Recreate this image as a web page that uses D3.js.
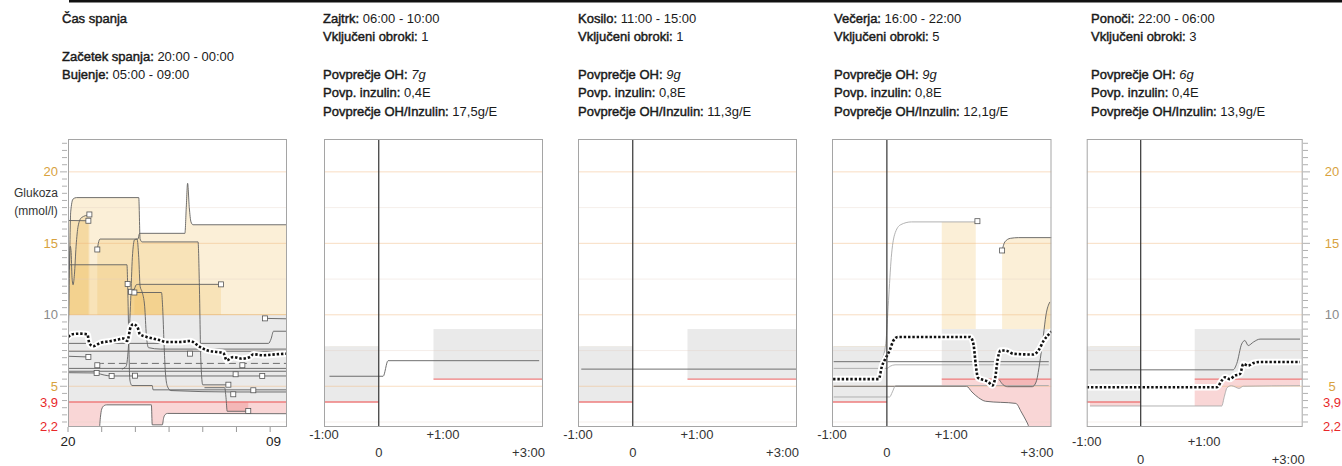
<!DOCTYPE html>
<html>
<head>
<meta charset="utf-8">
<script src="https://cdn.jsdelivr.net/npm/d3@7"></script>
<style>
  html, body { margin: 0; padding: 0; background: #fff; }
  svg { display: block; font-family: "Liberation Sans", Arial, sans-serif; }
</style>
</head>
<body>
<svg id="chart" width="1342" height="466"></svg>
<script>
// ---------- header texts ----------
const sleepTitle = "Čas spanja";
const sleepInfo = [["Začetek spanja:", "20:00 - 00:00"], ["Bujenje:", "05:00 - 09:00"]];
const mealNames = ["Zajtrk", "Kosilo", "Večerja", "Ponoči"];
const mealTimes = ["06:00 - 10:00", "11:00 - 15:00", "16:00 - 22:00", "22:00 - 06:00"];
const mealCounts = ["1", "1", "5", "3"];
const avgCarbs = ["7g", "9g", "9g", "6g"];
const avgInsulin = ["0,4E", "0,8E", "0,8E", "0,4E"];
const avgRatio = ["17,5g/E", "11,3g/E", "12,1g/E", "13,9g/E"];

// ---------- axes ----------
const glucoseLabels = [20, 15, 10, 5, 3.9, 2.2];
const gridValues = [2.5, 5, 7.5, 10, 12.5, 15, 17.5, 20];
const sleepHours = [0, 13];            // hours after 20:00
const sleepTickHours = [0, 2, 4, 6, 8, 10, 12];
const sleepTickLabels = [[0, "20"], [12.2, "09"]];
const mealHours = [-1, 3];             // hours relative to the meal
const mealLabelsUpper = [["-1:00", -1], ["+1:00", 1]];
const mealLabelsLower = [["0", 0], ["+3:00", 3]];

// ---------- target ranges (mmol/l) ----------
const sleepTarget = [3.9, 10];
const preMealTarget = [3.9, 7.8];
const postMealTarget = [5.5, 9.0];
const preWindow = [-1, 0];
const postWindow = [1, 3];

// ---------- sleep: individual nights [hour, mmol/l] ----------
const sleepTraces = [
  [[1.74,14.57],[1.8,15.0],[1.9,15.3],[4.15,15.3],[4.25,15.7],[6.94,15.7],[7.02,17.5],[7.1,19.2],[7.2,17.5],[7.3,16.5],[7.42,16.3],[13,16.3]],
  [[0,8.6],[0.05,10.2],[0.1,14],[0.16,17.2],[0.3,18.1],[0.5,18.2],[4.2,18.2],[4.28,15.3],[4.4,15.1],[7.72,15.1],[7.8,12],[7.88,7],[8.0,5.1],[9.52,5.1]],
  [[0,16.6],[1.21,16.58]],
  [[0.08,13.2],[0.13,14.8],[0.18,14.5],[0.24,12.6],[0.3,12.1],[0.38,12.8],[0.48,14.8],[0.6,16.2],[0.8,16.8],[1.27,17.0]],
  [[0,13.5],[3.5,13.5],[3.54,12.15],[3.58,10],[3.62,7.5],[3.66,5.6],[3.72,5.2],[3.8,5.05],[5.0,5.05],[5.05,4.75],[13,4.75]],
  [[3.94,11.56],[5.55,11.56],[5.62,10.5],[5.7,8],[5.78,6],[5.9,5.0],[6.1,4.7],[9.81,4.6],[13,4.6]],
  [[3.74,11.61],[3.9,11.7],[4.05,12.1],[4.2,12.13],[9.08,12.13]],
  [[3.2,6.2],[3.45,6.4],[3.6,8],[3.72,11],[3.82,14],[3.95,15.25],[4.1,15.3],[4.2,14],[4.28,12],[4.4,11.6],[4.55,10.6],[4.65,8.6],[4.78,7.7],[5.5,7.6],[13,7.6]],
  [[0,8.0],[11.9,8.0],[12.05,8.3],[12.2,8.85],[13,8.85]],
  [[11.69,9.75],[13,9.72]],
  [[0,7.45],[13,7.45]],
  [[0,6.25],[13,6.25]],
  [[0,6.05],[13,6.05]],
  [[0,7.1],[1.2,7.05]],
  [[1.7,5.93],[2.59,5.72],[13,5.72]],
  [[0,5.95],[1.7,5.93]],
  [[1.74,6.47],[2.0,6.6],[13,6.6]],
  [[0,1.9],[1.85,1.9],[1.92,2.8],[2.0,3.4],[2.15,3.65],[2.3,3.7],[4.95,3.7],[5.0,2.3],[5.6,2.3],[5.68,2.8],[5.8,3.05],[5.9,3.1],[13,3.08]],
  [[8.1,4.9],[9.3,4.9],[9.38,4.2],[9.45,3.25],[10.7,3.25]]
];
const sleepMarkers = [
  [1.27,17.02],[1.21,16.58],[1.74,14.57],[3.54,12.15],[3.74,11.61],[3.94,11.56],[9.08,12.13],
  [11.69,9.75],[1.21,7.05],[1.74,6.47],[1.70,5.93],[2.59,5.72],[3.98,5.74],[7.24,7.28],
  [10.35,6.47],[9.95,5.84],[11.53,5.72],[9.52,5.11],[9.81,4.44],[11.0,4.72],[10.7,3.27]
];
const sleepMedian = [
  [0.02,8.45],[0.22,8.64],[0.71,8.68],[1.15,8.64],[1.27,7.99],[1.5,7.8],[1.9,8.03],[2.49,8.15],
  [2.99,8.27],[3.28,8.34],[3.52,8.17],[3.72,9.15],[3.88,9.34],[4.12,9.15],[4.27,8.64],[4.67,8.45],
  [5.06,8.34],[5.46,8.22],[5.85,8.1],[6.65,8.1],[7.24,8.17],[7.83,7.75],[8.23,7.52],[8.82,7.4],
  [9.22,7.33],[9.42,6.82],[9.81,7.05],[10.31,6.93],[10.8,7.05],[11.0,7.24],[11.6,7.17],[12.38,7.24],[12.97,7.28]
];

// ---------- meals: individual meals [hour, mmol/l] ----------
const breakfastTraces = [
  [[-0.9,5.7],[0.08,5.7],[0.17,6.79],[2.93,6.79]]
];
const lunchTraces = [
  [[-0.94,6.2],[3.0,6.2]]
];
const dinnerTraces = [
  [[-0.97,6.72],[2.95,6.72]],
  [[-0.97,6.25],[0,6.25],[0.06,6.4],[0.15,6.5],[2.95,6.5]],
  [[-0.97,5.0],[1.45,5.0],[1.55,4.6],[1.67,4.2],[1.8,3.95],[2.35,3.8],[2.45,3.2],[2.55,2.5],[2.62,2.0],[3.0,2.0]],
  [[-0.97,4.25],[0.05,4.25],[0.1,4.6],[0.16,5.05],[2.95,5.05]],
  [[-0.1,6.8],[-0.02,8],[0.03,11],[0.08,14],[0.14,15.6],[0.25,16.3],[0.45,16.5],[1.62,16.5]],
  [[2.1,14.5],[2.15,15.1],[2.25,15.35],[2.4,15.4],[3.0,15.4]],
  [[2.05,5.45],[2.12,5.1],[2.2,4.97],[2.65,4.97],[2.72,5.3],[2.78,6.5],[2.85,8.5],[2.9,10],[2.97,10.9]]
];
const dinnerMarkers = [[1.65,16.55],[2.1,14.5]];
const dinnerMedian = [
  [-0.98,5.5],[-0.15,5.5],[-0.09,6.4],[-0.03,6.9],[0.05,7.5],[0.12,8.2],[0.2,8.45],[1.52,8.45],
  [1.58,7.9],[1.62,6.5],[1.66,5.6],[1.75,5.45],[1.85,5.3],[1.92,5.05],[1.97,5.5],[2.02,6.9],
  [2.07,7.5],[2.16,7.5],[2.31,7.27],[2.67,7.22],[2.76,7.5],[2.86,8.2],[3.0,8.83]
];
const nightTraces = [
  [[-0.94,6.15],[1.71,6.15],[1.78,6.6],[1.87,7.96],[1.93,8.2],[1.99,7.85],[2.09,8.1],[2.21,8.3],[2.95,8.3]],
  [[-0.94,3.62],[1.5,3.62],[1.55,4.3],[1.6,4.9],[1.68,5.04],[1.75,4.95],[1.82,4.85],[1.9,5.0],[2.95,5.04]]
];
const nightMedian = [
  [-1.0,4.93],[1.41,4.93],[1.5,5.4],[1.56,5.63],[1.65,5.5],[1.74,5.74],[1.84,5.86],[1.9,6.56],
  [1.99,6.44],[2.09,6.63],[2.21,6.7],[2.95,6.7]
];

// ---------- drawing ----------
const svg = d3.select("#chart");
const defs = svg.append("defs");
const TOP = 139, BOTTOM = 427;
const y = d3.scaleLinear().domain([2.15, 22.3]).range([BOTTOM, TOP]);
const fmt = v => String(v).replace(".", ",");
const labelColor = v => (v < 5 ? "#e8282a" : v === 10 ? "#8a8a8a" : "#d8a23e");
const curve = d3.curveMonotoneX;
let clipId = 0;

function clipRect(x0, y0, x1, y1) {
  const id = "clip" + (clipId++);
  defs.append("clipPath").attr("id", id).append("rect")
    .attr("x", x0).attr("y", y0).attr("width", x1 - x0).attr("height", y1 - y0);
  return "url(#" + id + ")";
}

function drawPanel(opt) {
  const x = opt.x;
  const [x0, x1] = x.range();
  const g = svg.append("g");
  const plot = g.append("g").attr("clip-path", clipRect(x0, TOP, x1, BOTTOM));
  const skipFill = opt.noFill || [];

  // target ranges
  opt.boxes.forEach(b => {
    plot.append("rect")
      .attr("x", x(b.t[0])).attr("width", x(b.t[1]) - x(b.t[0]))
      .attr("y", y(b.r[1])).attr("height", y(b.r[0]) - y(b.r[1]))
      .attr("fill", "#eaeaea");
  });

  // excursions above / below the target range, one translucent layer per trace
  opt.boxes.forEach(b => {
    const bx0 = x(b.t[0]), bx1 = x(b.t[1]);
    const above = plot.append("g").attr("clip-path", clipRect(bx0, TOP, bx1, y(b.r[1])));
    const below = plot.append("g").attr("clip-path", clipRect(bx0, y(b.r[0]), bx1, BOTTOM));
    opt.traces.forEach((tr, i) => {
      if (skipFill.includes(i)) return;
      const area = lim => d3.area().curve(curve).x(d => x(d[0])).y0(y(lim)).y1(d => y(d[1]))(tr);
      above.append("path").attr("d", area(b.r[1])).attr("fill", "rgba(238,188,88,0.24)");
      below.append("path").attr("d", area(b.r[0])).attr("fill", "rgba(232,96,96,0.26)");
    });
  });

  // grid
  gridValues.forEach(v => {
    plot.append("line")
      .attr("x1", x0).attr("x2", x1).attr("y1", y(v)).attr("y2", y(v))
      .attr("stroke", v % 5 === 0 ? "rgba(240,180,120,0.45)" : "rgba(225,205,195,0.35)")
      .attr("stroke-width", 1);
  });

  // lower limit of each target range
  opt.boxes.forEach(b => {
    plot.append("line")
      .attr("x1", x(b.t[0])).attr("x2", x(b.t[1]))
      .attr("y1", y(b.r[0])).attr("y2", y(b.r[0]))
      .attr("stroke", "#ee7c7c").attr("stroke-width", 1.3);
  });

  // individual traces
  const line = d3.line().curve(curve).x(d => x(d[0])).y(d => y(d[1]));
  opt.traces.forEach((tr, i) => {
    const light = opt.light && opt.light.includes(i);
    const dashed = opt.dashed && opt.dashed.includes(i);
    plot.append("path").attr("d", line(tr)).attr("fill", "none")
      .attr("stroke", light ? "#a9a9a9" : "#606060")
      .attr("stroke-width", 0.9)
      .attr("stroke-dasharray", dashed ? "7,4" : null);
  });

  // markers
  (opt.markers || []).forEach(m => {
    plot.append("rect")
      .attr("x", x(m[0]) - 2.5).attr("y", y(m[1]) - 2.5)
      .attr("width", 5).attr("height", 5)
      .attr("fill", "#fff").attr("stroke", "#555").attr("stroke-width", 0.8);
  });

  // median
  if (opt.median) {
    const p = line(opt.median);
    plot.append("path").attr("d", p).attr("fill", "none")
      .attr("stroke", "#fff").attr("stroke-width", 6.5)
      .attr("stroke-linejoin", "round").attr("stroke-linecap", "round");
    plot.append("path").attr("d", p).attr("fill", "none")
      .attr("stroke", "#111").attr("stroke-width", 2.6)
      .attr("stroke-dasharray", "2.4,1.9");
  }

  // meal time marker
  if (opt.zero) {
    g.append("line").attr("x1", x(0)).attr("x2", x(0)).attr("y1", TOP).attr("y2", BOTTOM)
      .attr("stroke", "#333").attr("stroke-width", 1.2);
  }

  // frame
  g.append("rect").attr("x", x0 + 0.5).attr("y", TOP + 0.5)
    .attr("width", x1 - x0 - 1).attr("height", BOTTOM - TOP - 1)
    .attr("fill", "none").attr("stroke", "#a5a5a5").attr("stroke-width", 1);
  return g;
}

function glucoseAxis(xTick, dir, labelX, anchor) {
  const g = svg.append("g");
  d3.range(2.5, 22.01, 0.5).forEach(v => {
    const len = v % 5 === 0 ? 7 : 5;
    g.append("line").attr("x1", xTick).attr("x2", xTick + dir * len)
      .attr("y1", y(v)).attr("y2", y(v)).attr("stroke", "#b0b0b0").attr("stroke-width", 1);
  });
  glucoseLabels.forEach(v => {
    g.append("text").attr("x", labelX).attr("y", y(v)).attr("dy", "0.35em")
      .attr("text-anchor", anchor).attr("font-size", 13)
      .attr("fill", labelColor(v)).text(fmt(v));
  });
}

// top rule
svg.append("rect").attr("x", 69).attr("y", 0).attr("width", 1342 - 69).attr("height", 2.5).attr("fill", "#111");

// --- sleep panel ---
const sleepX = d3.scaleLinear().domain(sleepHours).range([68, 287]);
drawPanel({
  x: sleepX,
  boxes: [{ t: sleepHours, r: sleepTarget }],
  traces: sleepTraces, markers: sleepMarkers, median: sleepMedian,
  dashed: [16]
});
glucoseAxis(67, -1, 58, "end");
sleepTickHours.forEach(h => {
  svg.append("line").attr("x1", sleepX(h)).attr("x2", sleepX(h))
    .attr("y1", BOTTOM).attr("y2", BOTTOM + 5).attr("stroke", "#999");
});
sleepTickLabels.forEach(([h, t]) => {
  svg.append("text").attr("x", sleepX(h)).attr("y", 446).attr("text-anchor", "middle")
    .attr("font-size", 13.5).attr("fill", "#222").text(t);
});
svg.append("text").attr("x", 36).attr("y", 197).attr("text-anchor", "middle")
  .attr("font-size", 12).attr("fill", "#333").text("Glukoza");
svg.append("text").attr("x", 36).attr("y", 215).attr("text-anchor", "middle")
  .attr("font-size", 12).attr("fill", "#333").text("(mmol/l)");

// header text: labels drawn slightly heavier than their values
const head = svg.append("g").attr("font-size", 13).attr("fill", "#1a1a1a");
const heavy = sel => sel.attr("stroke", "#1a1a1a").attr("stroke-width", 0.45);
heavy(head.append("text").attr("x", 62).attr("y", 23).text(sleepTitle));
sleepInfo.forEach(([k, v], i) => {
  const t = head.append("text").attr("x", 62).attr("y", 61 + i * 18);
  heavy(t.append("tspan").text(k));
  t.append("tspan").text(" " + v);
});

// --- meal panels ---
const mealRanges = [[324, 543], [578, 797], [832, 1051.5], [1086.7, 1302.7]];
const mealTextX = [323, 578, 834, 1091];
const mealData = [
  { traces: breakfastTraces },
  { traces: lunchTraces },
  { traces: dinnerTraces, markers: dinnerMarkers, median: dinnerMedian, light: [1, 3, 4], noFill: [3] },
  { traces: nightTraces, median: nightMedian, light: [1] }
];

mealData.forEach((m, i) => {
  const x = d3.scaleLinear().domain(mealHours).range(mealRanges[i]);
  drawPanel({
    x,
    boxes: [{ t: preWindow, r: preMealTarget }, { t: postWindow, r: postMealTarget }],
    traces: m.traces, markers: m.markers, median: m.median, light: m.light,
    noFill: m.noFill, zero: true
  });
  const shift = i === 3 ? 7 : 0;
  const ax = svg.append("g").attr("font-size", 13).attr("fill", "#333");
  mealLabelsUpper.forEach(([t, h]) => {
    ax.append("text").attr("x", x(h) + (h > 0 ? -7 : 0)).attr("y", 439 + shift)
      .attr("text-anchor", h > 0 ? "start" : "middle").text(t);
  });
  mealLabelsLower.forEach(([t, h]) => {
    ax.append("text").attr("x", x(h) + (h > 0 ? 2 : 0)).attr("y", 457 + shift)
      .attr("text-anchor", h > 0 ? "end" : "middle").text(t);
  });

  // header block
  const tx = mealTextX[i];
  const rows = [
    [mealNames[i] + ":", mealTimes[i], 23],
    ["Vključeni obroki:", mealCounts[i], 41],
    ["Povprečje OH:", avgCarbs[i], 79],
    ["Povp. inzulin:", avgInsulin[i], 97],
    ["Povprečje OH/Inzulin:", avgRatio[i], 116]
  ];
  rows.forEach(([k, v, yy], r) => {
    const t = head.append("text").attr("x", tx).attr("y", yy);
    heavy(t.append("tspan").text(k));
    t.append("tspan").text(" ");
    t.append("tspan").attr("font-style", r === 2 ? "italic" : null).text(v);
  });
});

glucoseAxis(1303, 1, 1332, "middle");
</script>
</body>
</html>
